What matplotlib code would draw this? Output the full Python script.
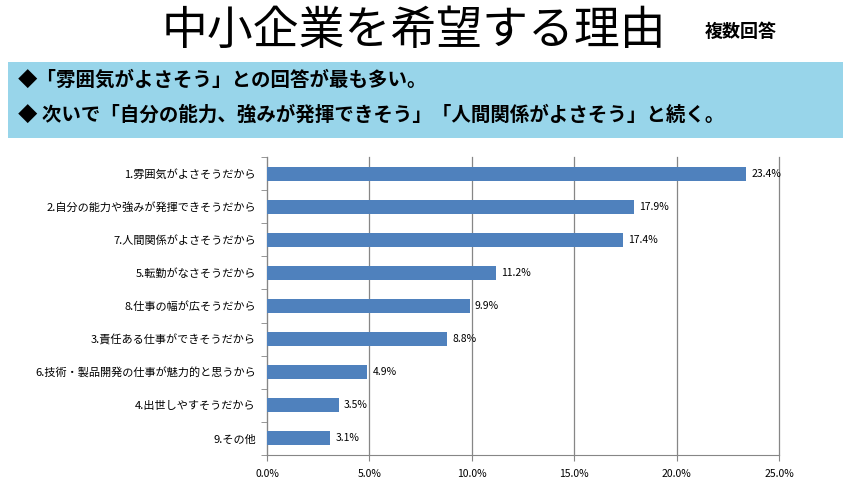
import numpy as np
import matplotlib
matplotlib.use("Agg")
import matplotlib.pyplot as plt
from matplotlib.patches import Rectangle
from matplotlib.ticker import FixedLocator, FuncFormatter

plt.rcParams['font.family'] = ['Noto Sans CJK JP', 'DejaVu Sans']

# データ
categories = [
    "1.雰囲気がよさそうだから",
    "2.自分の能力や強みが発揮できそうだから",
    "7.人間関係がよさそうだから",
    "5.転勤がなさそうだから",
    "8.仕事の幅が広そうだから",
    "3.責任ある仕事ができそうだから",
    "6.技術・製品開発の仕事が魅力的と思うから",
    "4.出世しやすそうだから",
    "9.その他",
]
values = [23.4, 17.9, 17.4, 11.2, 9.9, 8.8, 4.9, 3.5, 3.1]
x_ticks = [0, 5, 10, 15, 20, 25]

title = "中小企業を希望する理由"
subtitle = "複数回答"
notes = [
    "◆「雰囲気がよさそう」との回答が最も多い。",
    "◆ 次いで「自分の能力、強みが発揮できそう」「人間関係がよさそう」と続く。",
]

fig = plt.figure(figsize=(8.5, 4.8), dpi=100)
fig.patch.set_facecolor("white")

# タイトル
fig.text(0.487, 0.935, title, fontsize=33, ha="center", va="center", color="black")
fig.text(0.872, 0.935, subtitle, fontsize=13, ha="center", va="center",
         fontweight="bold", color="black")

# 説明ボックス
fig.patches.append(Rectangle((8 / 850, 1 - 138 / 480), 835 / 850, 76 / 480,
                             transform=fig.transFigure, facecolor="#98D5EA",
                             edgecolor="none", zorder=0))
fig.text(18 / 850, 1 - 80 / 480, notes[0], fontsize=14, fontweight="bold",
         ha="left", va="center")
fig.text(18 / 850, 1 - 115 / 480, notes[1], fontsize=14, fontweight="bold",
         ha="left", va="center")

# グラフ
ax = fig.add_axes([267 / 850, 1 - 455 / 480, 512 / 850, 298 / 480])
y = np.arange(len(categories))
ax.barh(y, values, height=0.42, color="#4F81BD", zorder=3)
for yi, v in zip(y, values):
    ax.text(v + 0.25, yi, f"{v:.1f}%", va="center", ha="left", fontsize=7.5)

ax.set_ylim(len(categories) - 0.5, -0.5)
ax.set_xlim(0, 25)
ax.set_yticks(y)
ax.set_yticklabels(categories, fontsize=8)
ax.yaxis.set_minor_locator(FixedLocator(np.arange(-0.5, len(categories), 1)))
ax.tick_params(axis="y", which="major", length=0, pad=8)
ax.tick_params(axis="y", which="minor", length=4, color="#868686")
ax.set_xticks(x_ticks)
ax.xaxis.set_major_formatter(FuncFormatter(lambda v, p: f"{v:.1f}%"))
ax.tick_params(axis="x", length=4, color="#868686", labelsize=7.5, pad=6)
ax.grid(axis="x", color="#868686", linewidth=0.9, zorder=0)
for gl in ax.get_xgridlines():
    gl.set_clip_on(False)

for s in ["top", "right"]:
    ax.spines[s].set_visible(False)
for s in ["left", "bottom"]:
    ax.spines[s].set_color("#868686")

fig.savefig("out.png", dpi=100)
